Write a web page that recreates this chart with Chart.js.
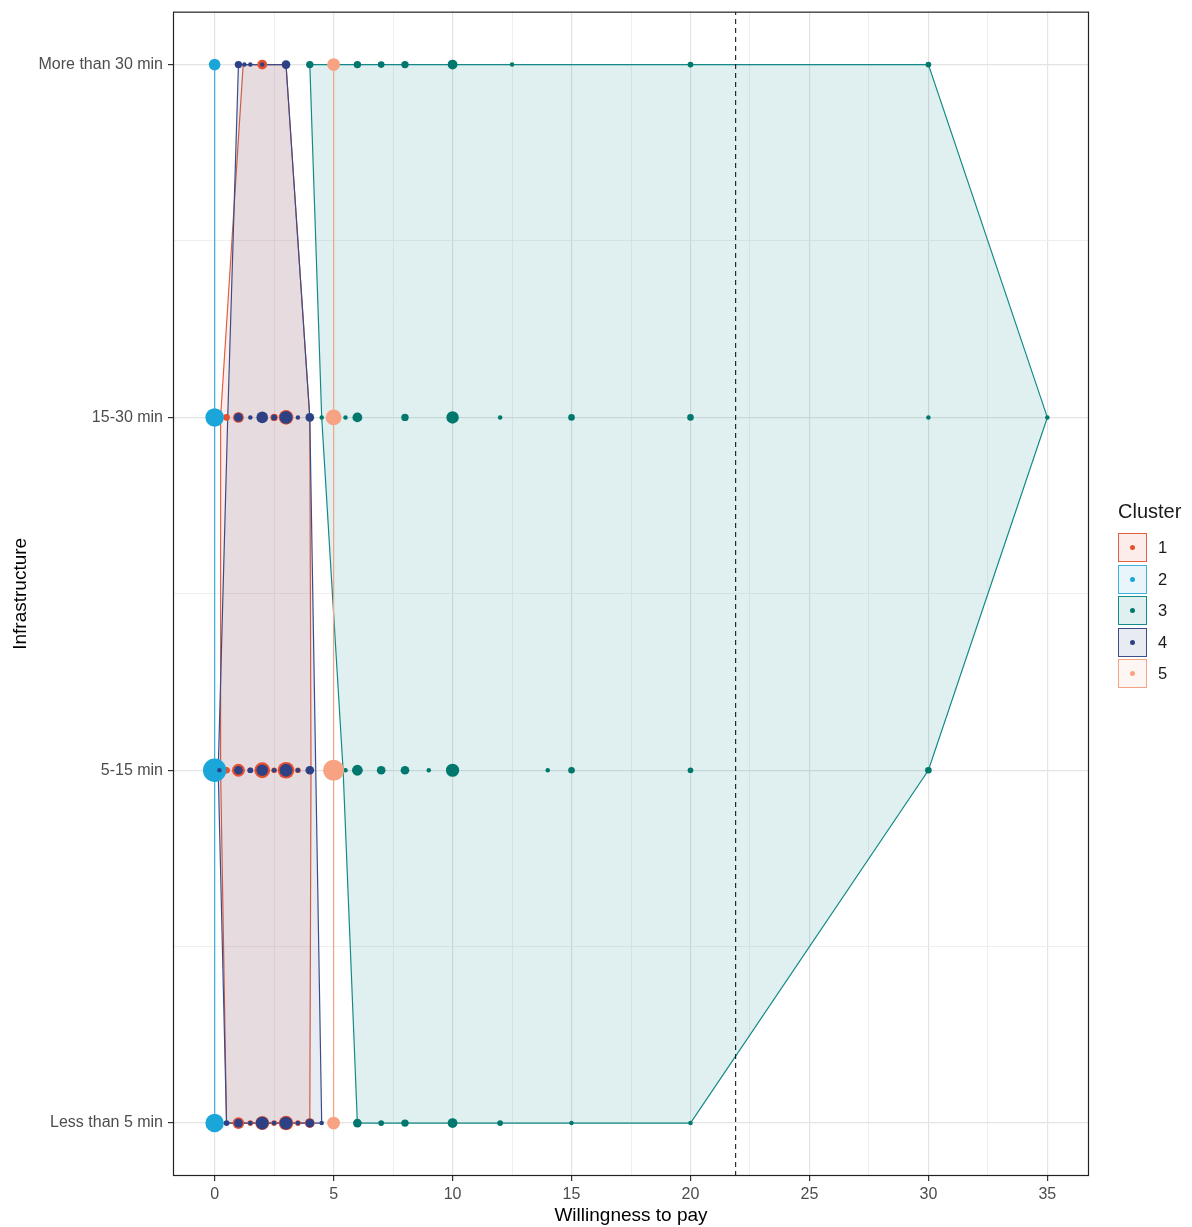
<!DOCTYPE html>
<html>
<head>
<meta charset="utf-8">
<script src="https://cdn.jsdelivr.net/npm/chart.js@4.4.1/dist/chart.umd.min.js"></script>
<style>
  html, body { margin: 0; padding: 0; background: #fff; }
  #wrap { position: relative; width: 1192px; height: 1227px; }
  #legend { position: absolute; left: 1118px; top: 499px; font-family: 'Liberation Sans', Arial, sans-serif; color: #1a1a1a; }
  #legend .title { font-size: 20px; line-height: 24px; margin-bottom: 9px; white-space: nowrap; }
  #legend .row { display: flex; align-items: center; height: 31.5px; }
  #legend .key { position: relative; box-sizing: border-box; width: 29px; height: 29px; border: 1.5px solid; }
  #legend .dot { position: absolute; left: 50%; top: 50%; width: 5px; height: 5px; margin: -2.5px 0 0 -2.5px; border-radius: 50%; }
  #legend .lab { margin-left: 11px; font-size: 16.5px; }
</style>
</head>
<body>
<div id="wrap">
  <canvas id="hullChart"></canvas>
  <div id="legend"></div>
</div>
<script>
        // Data
        const categories = ['Less than 5 min', '5-15 min', '15-30 min', 'More than 30 min'];
        const xMajorTicks = [0, 5, 10, 15, 20, 25, 30, 35];
        const xMinorTicks = [2.5, 7.5, 12.5, 17.5, 22.5, 27.5, 32.5];
        const yMinorTicks = [0.5, 1.5, 2.5];
        const meanWtp = 21.9;

        const clusterNames = ['1', '2', '3', '4', '5'];

        // [willingness to pay, infrastructure, respondents]
        const cluster1Points = [
            [2, 'More than 30 min', 8],
            [0.5, '15-30 min', 3], [1, '15-30 min', 10], [2.5, '15-30 min', 4], [3, '15-30 min', 20],
            [0.5, '5-15 min', 3], [1, '5-15 min', 15], [1.5, '5-15 min', 2], [2, '5-15 min', 24],
            [2.5, '5-15 min', 2], [3, '5-15 min', 27], [3.5, '5-15 min', 2],
            [1, 'Less than 5 min', 12], [1.5, 'Less than 5 min', 2], [2, 'Less than 5 min', 18],
            [2.5, 'Less than 5 min', 2], [3, 'Less than 5 min', 20], [3.5, 'Less than 5 min', 2],
            [4, 'Less than 5 min', 8]
        ];
        const cluster2Points = [
            [0, 'More than 30 min', 12], [0, '15-30 min', 34], [0, '5-15 min', 56], [0, 'Less than 5 min', 34]
        ];
        const cluster3Points = [
            [4, 'More than 30 min', 4], [6, 'More than 30 min', 4], [7, 'More than 30 min', 3],
            [8, 'More than 30 min', 4], [10, 'More than 30 min', 8], [12.5, 'More than 30 min', 1],
            [20, 'More than 30 min', 2], [30, 'More than 30 min', 2],
            [4.5, '15-30 min', 1], [5.5, '15-30 min', 1], [6, '15-30 min', 8], [8, '15-30 min', 4],
            [10, '15-30 min', 14], [12, '15-30 min', 1], [15, '15-30 min', 3], [20, '15-30 min', 3],
            [30, '15-30 min', 1], [35, '15-30 min', 1],
            [5.5, '5-15 min', 1], [6, '5-15 min', 10], [7, '5-15 min', 6], [8, '5-15 min', 6],
            [9, '5-15 min', 1], [10, '5-15 min', 16], [14, '5-15 min', 1], [15, '5-15 min', 3],
            [20, '5-15 min', 2], [30, '5-15 min', 3],
            [6, 'Less than 5 min', 6], [7, 'Less than 5 min', 2], [8, 'Less than 5 min', 4],
            [10, 'Less than 5 min', 8], [12, 'Less than 5 min', 2], [15, 'Less than 5 min', 1],
            [20, 'Less than 5 min', 1]
        ];
        const cluster4Points = [
            [1, 'More than 30 min', 4], [1.25, 'More than 30 min', 1], [1.5, 'More than 30 min', 1],
            [2, 'More than 30 min', 1], [3, 'More than 30 min', 6],
            [1, '15-30 min', 6], [1.5, '15-30 min', 1], [2, '15-30 min', 12], [2.5, '15-30 min', 2],
            [3, '15-30 min', 15], [3.5, '15-30 min', 1], [4, '15-30 min', 6],
            [0.2, '5-15 min', 1], [1, '5-15 min', 6], [1.5, '5-15 min', 2], [2, '5-15 min', 12],
            [2.5, '5-15 min', 1], [3, '5-15 min', 15], [3.5, '5-15 min', 1], [4, '5-15 min', 6],
            [0.5, 'Less than 5 min', 2], [1, 'Less than 5 min', 6], [1.5, 'Less than 5 min', 1],
            [2, 'Less than 5 min', 15], [2.5, 'Less than 5 min', 1], [3, 'Less than 5 min', 15],
            [3.5, 'Less than 5 min', 1], [4, 'Less than 5 min', 6], [4.5, 'Less than 5 min', 1]
        ];
        const cluster5Points = [
            [5, 'More than 30 min', 15], [5, '15-30 min', 24], [5, '5-15 min', 45], [5, 'Less than 5 min', 15]
        ];

        // hull outlines, traced round each cluster
        const cluster1Hull = [
            [1.2, 'More than 30 min'], [3, 'More than 30 min'], [4, '15-30 min'], [4.05, '5-15 min'],
            [4, 'Less than 5 min'], [0.5, 'Less than 5 min'], [0.25, '5-15 min'], [0.25, '15-30 min']
        ];
        const cluster2Hull = [[0, 'More than 30 min'], [0, 'Less than 5 min']];
        const cluster3Hull = [
            [4, 'More than 30 min'], [30, 'More than 30 min'], [35, '15-30 min'], [30, '5-15 min'],
            [20, 'Less than 5 min'], [6, 'Less than 5 min'], [5.4, '5-15 min'], [4.5, '15-30 min']
        ];
        const cluster4Hull = [
            [1, 'More than 30 min'], [3, 'More than 30 min'], [4, '15-30 min'], [4.25, '5-15 min'],
            [4.5, 'Less than 5 min'], [0.5, 'Less than 5 min'], [0.15, '5-15 min'], [0.55, '15-30 min']
        ];
        const cluster5Hull = [[5, 'More than 30 min'], [5, 'Less than 5 min']];

        const allPoints = [cluster1Points, cluster2Points, cluster3Points, cluster4Points, cluster5Points];
        const allHulls = [cluster1Hull, cluster2Hull, cluster3Hull, cluster4Hull, cluster5Hull];

        // Styles
        const pointColors = ['#e5502f', '#1ba6d9', '#00786d', '#2e4184', '#f7a383'];
        const lineColors = ['#e0603f', '#3ab0dc', '#138a88', '#3c4c88', '#f5a488'];
        const fillColors = ['rgba(227,74,51,0.1)', 'rgba(27,166,217,0.1)', 'rgba(0,128,128,0.12)',
                            'rgba(43,61,124,0.1)', 'rgba(247,163,131,0.1)'];
        const fontFamily = "'Liberation Sans', Arial, sans-serif";

        const sizeScale = n => 0.8 + 1.45 * Math.sqrt(n);
        const rowOf = name => categories.indexOf(name);

        const datasets = [];
        allHulls.forEach((hull, i) => {
            const pts = hull.map(([x, c]) => ({ x: x, y: rowOf(c) }));
            pts.push(pts[0]);
            datasets.push({
                label: 'hull ' + clusterNames[i],
                data: pts,
                showLine: true,
                fill: 'shape',
                tension: 0,
                backgroundColor: fillColors[i],
                borderColor: lineColors[i],
                borderWidth: 1.2,
                pointRadius: 0,
                order: 30 - i
            });
        });
        allPoints.forEach((list, i) => {
            datasets.push({
                label: clusterNames[i],
                data: list.map(([x, c, n]) => ({ x: x, y: rowOf(c), n: n })),
                showLine: false,
                backgroundColor: pointColors[i],
                borderWidth: 0,
                pointRadius: ctx => sizeScale(ctx.raw.n),
                order: 15 - i
            });
        });
        datasets.push({
            label: 'mean',
            data: [{ x: meanWtp, y: -0.15 }, { x: meanWtp, y: 3.15 }],
            showLine: true,
            borderColor: '#000',
            borderWidth: 1,
            borderDash: [5, 4],
            pointRadius: 0,
            order: 0
        });

        // frame round the panel
        const panelBorder = {
            id: 'panelBorder',
            afterDraw(chart) {
                const { ctx, chartArea: a } = chart;
                ctx.save();
                ctx.strokeStyle = '#222';
                ctx.lineWidth = 1.2;
                ctx.strokeRect(a.left + 0.5, a.top + 0.5, a.width - 1, a.height - 1);
                ctx.restore();
            }
        };

        const isMajorX = v => xMajorTicks.includes(v);
        const isMajorY = v => Number.isInteger(v);

        const ctx = document.getElementById('hullChart').getContext('2d');
        new Chart(ctx, {
            type: 'scatter',
            data: { datasets: datasets },
            plugins: [panelBorder],
            options: {
                responsive: true,
                maintainAspectRatio: false,
                animation: false,
                events: [],
                layout: { padding: { left: 0, right: 103, top: 10, bottom: 0 } },
                plugins: {
                    legend: { display: false },
                    tooltip: { enabled: false }
                },
                scales: {
                    x: {
                        type: 'linear',
                        min: -1.75,
                        max: 36.75,
                        afterBuildTicks: s => {
                            s.ticks = [...xMajorTicks, ...xMinorTicks].sort((a, b) => a - b).map(v => ({ value: v }));
                        },
                        afterFit: s => { s.height = 51; s.paddingLeft = 0; s.paddingRight = 0; },
                        border: { display: false },
                        grid: {
                            color: c => isMajorX(c.tick.value) ? '#e3e3e3' : '#ededed',
                            lineWidth: c => isMajorX(c.tick.value) ? 1.2 : 0.9,
                            tickColor: c => isMajorX(c.tick.value) ? '#333' : 'rgba(0,0,0,0)',
                            tickLength: 5
                        },
                        ticks: {
                            autoSkip: false,
                            maxRotation: 0,
                            padding: 4,
                            color: '#4d4d4d',
                            font: { family: fontFamily, size: 16 },
                            callback: v => isMajorX(v) ? String(v) : ''
                        },
                        title: {
                            display: true,
                            text: 'Willingness to pay',
                            color: '#000',
                            font: { family: fontFamily, size: 19 },
                            padding: { top: 0, bottom: 0 }
                        }
                    },
                    y: {
                        type: 'linear',
                        min: -0.15,
                        max: 3.15,
                        afterBuildTicks: s => {
                            s.ticks = [0, 1, 2, 3, ...yMinorTicks].sort((a, b) => a - b).map(v => ({ value: v }));
                        },
                        afterFit: s => { s.width = 173; s.paddingTop = 0; s.paddingBottom = 0; },
                        border: { display: false },
                        grid: {
                            color: c => isMajorY(c.tick.value) ? '#e3e3e3' : '#ededed',
                            lineWidth: c => isMajorY(c.tick.value) ? 1.2 : 0.9,
                            tickColor: c => isMajorY(c.tick.value) ? '#333' : 'rgba(0,0,0,0)',
                            tickLength: 5
                        },
                        ticks: {
                            autoSkip: false,
                            padding: 5,
                            color: '#4d4d4d',
                            font: { family: fontFamily, size: 16 },
                            callback: v => isMajorY(v) ? categories[v] : ''
                        },
                        title: {
                            display: true,
                            text: 'Infrastructure',
                            color: '#000',
                            font: { family: fontFamily, size: 19 },
                            padding: { top: 9, bottom: 0 }
                        }
                    }
                }
            }
        });

        // Legend
        const legend = document.getElementById('legend');
        legend.innerHTML = '<div class="title">Cluster</div>' + clusterNames.map((name, i) =>
            '<div class="row"><div class="key" style="border-color:' + lineColors[i] + ';background:' + fillColors[i] + '">' +
            '<div class="dot" style="background:' + pointColors[i] + '"></div></div>' +
            '<span class="lab">' + name + '</span></div>'
        ).join('');
</script>
</body>
</html>
